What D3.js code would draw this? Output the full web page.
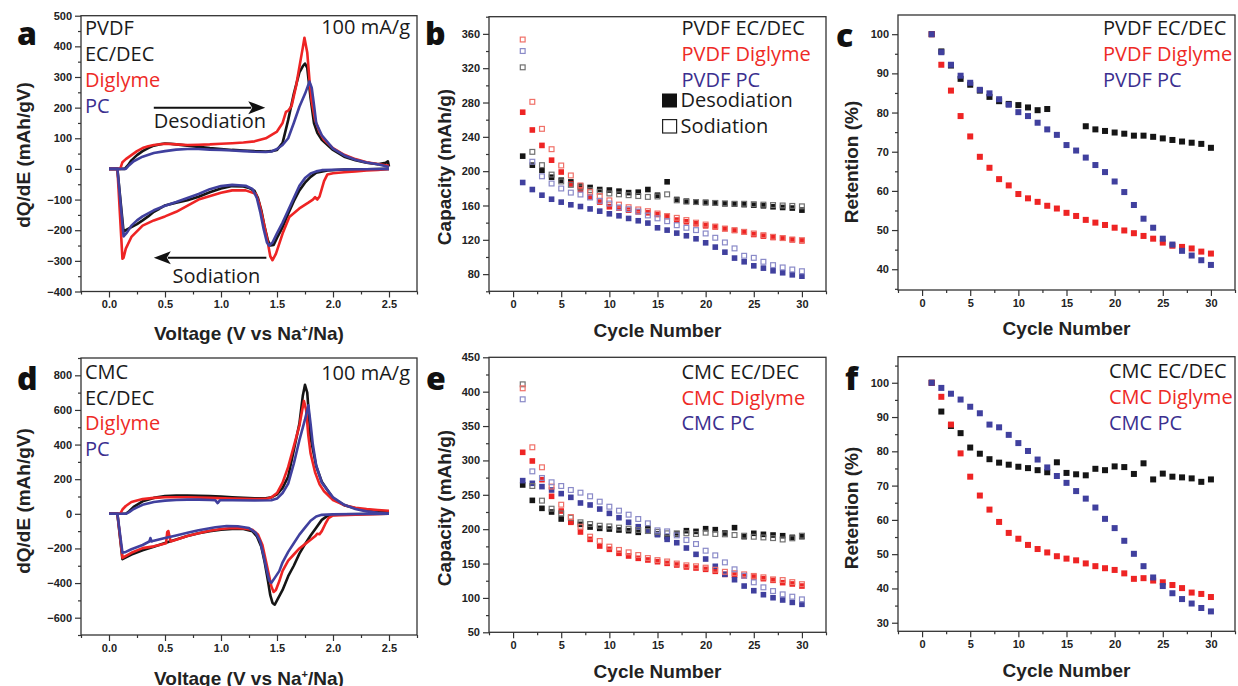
<!DOCTYPE html>
<html>
<head>
<meta charset="utf-8">
<script src="https://cdn.jsdelivr.net/npm/d3@7"></script>
<style>
  body { margin: 0; background: #fff; }
  .tick text { font-family: "Liberation Sans", Arial, sans-serif; font-weight: bold; font-size: 11px; fill: #222; }
  .tick line { stroke: #333; stroke-width: 1.2; }
  .domain { display: none; }
  .ttl { font-family: "Liberation Sans", Arial, sans-serif; font-weight: bold; font-size: 19px; fill: #222; }
  .leg { font-family: "Open Sans", sans-serif; font-size: 20px; }
  .letter { font-family: "Open Sans", sans-serif; font-weight: 800; font-size: 32px; fill: #111; }
</style>
</head>
<body>
<svg id="fig" width="1238" height="686"></svg>
<script>
// ---- data ----
const cycles = [1,2,3,4,5,6,7,8,9,10,11,12,13,14,15,16,17,18,19,20,21,22,23,24,25,26,27,28,29,30];

// dQ/dE curves, [voltage, dQ/dE]; charge = desodiation branch, discharge = sodiation branch
const cvPvdfEcDecCharge = [[0,0],[0.14,0],[0.17,12],[0.2,28],[0.25,45],[0.3,58],[0.35,68],[0.4,76],[0.45,80],[0.5,83],[0.55,82],[0.6,80],[0.7,76],[0.8,72],[0.9,68],[1.0,65],[1.1,62],[1.2,60],[1.3,58],[1.4,57],[1.45,58],[1.5,62],[1.55,85],[1.6,160],[1.65,245],[1.7,315],[1.73,335],[1.75,344],[1.77,330],[1.8,230],[1.83,150],[1.86,118],[1.9,95],[2.0,62],[2.1,40],[2.2,28],[2.3,20],[2.4,15],[2.47,20],[2.49,25],[2.5,8]];
const cvPvdfEcDecDischarge = [[2.5,0],[2.3,-1],[2.1,-2],[1.95,-5],[1.85,-12],[1.8,-26],[1.75,-45],[1.7,-70],[1.65,-105],[1.6,-146],[1.55,-190],[1.5,-225],[1.47,-248],[1.44,-250],[1.42,-235],[1.39,-190],[1.36,-135],[1.33,-95],[1.3,-72],[1.25,-62],[1.2,-57],[1.1,-56],[1.0,-64],[0.9,-76],[0.8,-91],[0.7,-102],[0.6,-110],[0.5,-119],[0.45,-130],[0.4,-140],[0.35,-155],[0.3,-168],[0.25,-180],[0.2,-190],[0.15,-200],[0.13,-205],[0.075,0],[0,0]];
const cvPvdfDigCharge = [[0,0],[0.1,0],[0.12,22],[0.15,32],[0.2,45],[0.25,58],[0.3,68],[0.35,74],[0.4,78],[0.5,82],[0.6,80],[0.7,78],[0.8,79],[0.9,80],[1.0,82],[1.1,84],[1.2,86],[1.3,90],[1.4,100],[1.5,122],[1.55,150],[1.58,186],[1.6,190],[1.63,205],[1.67,270],[1.7,333],[1.73,395],[1.745,428],[1.77,380],[1.79,290],[1.81,220],[1.84,160],[1.88,120],[1.92,95],[2.0,68],[2.1,46],[2.2,32],[2.3,22],[2.4,16],[2.5,10]];
const cvPvdfDigDischarge = [[2.5,0],[2.4,-3],[2.3,-5],[2.2,-8],[2.1,-11],[2.0,-14],[1.95,-18],[1.92,-40],[1.88,-90],[1.86,-100],[1.84,-92],[1.82,-100],[1.78,-110],[1.7,-129],[1.61,-157],[1.55,-211],[1.49,-277],[1.46,-298],[1.44,-285],[1.41,-225],[1.37,-157],[1.34,-110],[1.31,-81],[1.22,-70],[1.1,-70],[1.0,-78],[0.8,-100],[0.6,-140],[0.5,-155],[0.4,-168],[0.3,-185],[0.2,-222],[0.15,-260],[0.13,-290],[0.12,-293],[0.075,0],[0,0]];
const cvPvdfPcCharge = [[0,0],[0.15,0],[0.18,12],[0.22,25],[0.3,40],[0.4,52],[0.5,58],[0.6,63],[0.7,65],[0.8,65],[0.9,63],[1.0,62],[1.1,60],[1.2,58],[1.3,56],[1.4,55],[1.45,57],[1.5,65],[1.55,78],[1.6,100],[1.65,150],[1.7,203],[1.75,245],[1.79,285],[1.81,265],[1.83,210],[1.85,150],[1.9,110],[2.0,66],[2.1,44],[2.2,30],[2.3,21],[2.4,15],[2.5,6]];
const cvPvdfPcDischarge = [[2.5,0],[2.3,-1],[2.1,-2],[1.9,-4],[1.85,-8],[1.8,-15],[1.75,-30],[1.7,-55],[1.65,-95],[1.6,-135],[1.55,-175],[1.5,-210],[1.46,-240],[1.43,-250],[1.41,-240],[1.38,-195],[1.35,-140],[1.32,-95],[1.28,-65],[1.22,-55],[1.1,-52],[1.0,-56],[0.9,-66],[0.8,-82],[0.7,-95],[0.6,-108],[0.5,-120],[0.4,-135],[0.3,-155],[0.25,-168],[0.2,-185],[0.16,-208],[0.13,-220],[0.075,0],[0,0]];

const cvCmcEcDecCharge = [[0,0],[0.15,0],[0.18,15],[0.22,40],[0.3,72],[0.4,92],[0.5,102],[0.6,106],[0.7,106],[0.8,104],[0.9,102],[1.0,99],[1.1,96],[1.2,93],[1.3,90],[1.4,90],[1.45,95],[1.5,112],[1.55,150],[1.6,215],[1.65,367],[1.7,521],[1.73,680],[1.75,745],[1.77,700],[1.8,440],[1.85,275],[1.9,185],[2.0,90],[2.1,50],[2.2,32],[2.3,20],[2.4,14],[2.5,10]];
const cvCmcEcDecDischarge = [[2.5,0],[2.3,-1],[2.1,-3],[2.0,-6],[1.95,-12],[1.9,-35],[1.85,-80],[1.8,-125],[1.75,-175],[1.7,-230],[1.65,-300],[1.6,-360],[1.55,-440],[1.5,-500],[1.48,-525],[1.46,-515],[1.44,-470],[1.42,-390],[1.39,-280],[1.36,-190],[1.32,-130],[1.28,-100],[1.2,-88],[1.1,-87],[1.0,-92],[0.9,-100],[0.8,-112],[0.7,-128],[0.6,-148],[0.5,-168],[0.4,-190],[0.3,-210],[0.2,-235],[0.12,-262],[0.075,0],[0,0]];
const cvCmcDigCharge = [[0,0],[0.1,0],[0.12,25],[0.15,45],[0.2,68],[0.3,85],[0.4,92],[0.5,96],[0.7,96],[0.9,92],[1.1,88],[1.3,85],[1.4,86],[1.45,95],[1.5,120],[1.55,180],[1.6,271],[1.65,390],[1.7,510],[1.74,652],[1.76,600],[1.78,450],[1.8,348],[1.84,240],[1.88,170],[1.92,130],[2.0,80],[2.1,50],[2.2,35],[2.3,27],[2.4,22],[2.5,18]];
const cvCmcDigDischarge = [[2.5,0],[2.2,-5],[2.0,-9],[1.96,-25],[1.93,-60],[1.9,-100],[1.88,-118],[1.86,-115],[1.84,-130],[1.8,-150],[1.75,-175],[1.7,-200],[1.65,-235],[1.6,-270],[1.55,-330],[1.52,-390],[1.49,-440],[1.47,-451],[1.45,-420],[1.43,-360],[1.4,-270],[1.37,-180],[1.33,-120],[1.28,-92],[1.2,-84],[1.1,-82],[1.0,-88],[0.9,-98],[0.8,-112],[0.7,-128],[0.6,-150],[0.55,-160],[0.53,-100],[0.52,-105],[0.51,-170],[0.45,-180],[0.4,-188],[0.3,-198],[0.2,-225],[0.12,-255],[0.075,0],[0,0]];
const cvCmcPcCharge = [[0,0],[0.15,0],[0.18,10],[0.22,28],[0.3,52],[0.4,68],[0.5,76],[0.6,80],[0.7,82],[0.8,82],[0.9,80],[0.95,78],[0.97,62],[0.99,78],[1.1,78],[1.3,77],[1.45,78],[1.5,88],[1.55,120],[1.6,174],[1.65,290],[1.7,425],[1.75,545],[1.78,627],[1.8,520],[1.82,400],[1.85,280],[1.9,180],[2.0,95],[2.1,52],[2.2,28],[2.3,14],[2.4,6],[2.5,2]];
const cvCmcPcDischarge = [[2.5,0],[2.2,-1],[2.0,-3],[1.9,-6],[1.85,-15],[1.8,-40],[1.75,-80],[1.7,-120],[1.65,-170],[1.6,-220],[1.55,-280],[1.52,-331],[1.48,-370],[1.45,-398],[1.43,-385],[1.41,-330],[1.38,-240],[1.35,-160],[1.31,-110],[1.25,-82],[1.15,-72],[1.05,-70],[0.95,-78],[0.8,-95],[0.7,-110],[0.6,-125],[0.5,-140],[0.4,-155],[0.38,-160],[0.37,-140],[0.36,-160],[0.3,-180],[0.2,-205],[0.15,-220],[0.12,-225],[0.075,0],[0,0]];

// capacity (mAh/g) per cycle
const pvdfCapEcDecDes = [217.5,207,201,193,189.5,187.5,183,181,178.6,178,176.7,175,175.5,178.6,172,187.6,167,165,164,163.5,163,162,161.6,161,160.4,159.6,158.5,157.7,157,154.6];
const pvdfCapEcDecSod = [321,222.5,207,196,188,184,181,178,176,174,173,172,171,170,170.5,173,166,164.5,164,163.5,163,162.5,162,162,161.5,161,160.5,160,159.5,159];
const pvdfCapDigDes = [268.7,248,230,212.8,199,185,178.6,170,164,158.5,157,154.6,152.6,151.5,149.5,147.2,143,141,138.7,136.3,135,133,131,129.3,126.2,124.3,122.7,122,120,118.8];
const pvdfCapDigSod = [353.4,280.8,249.3,225.6,206.6,195,183.3,176,171,166,161,158,155.4,153.4,150.7,147.6,145.6,143,140,137.8,135.5,133,131.2,129.3,127.4,125.4,123.5,122,120.4,119.6];
const pvdfCapPcDes = [186.8,178.6,172,167.3,163.9,160.8,158.8,156,153.4,150.3,148,144.9,142.2,139.5,134,131.3,127.8,124.7,121.2,116.5,111.5,105.6,98.7,94.4,89.7,87,83.9,81.6,79.2,77.6];
const pvdfCapPcSod = [340,211,194,185.6,179.8,175,172.8,169.3,165.4,162.3,157.7,155.7,153,148.4,145,141.7,137,134,131.3,127.4,122.4,116.9,110,101.4,99,94.4,90.5,87.8,85.4,83.4];

const cmcCapEcDecDes = [264.3,241.9,230.3,225,214.8,211,207,203.1,201.2,200.2,198.8,197.8,195.4,201.7,193,189,193,197.8,196.8,200.7,199.3,194.4,202.2,189.1,194,192.5,191.5,190.5,188.1,189.1];
const cmcCapEcDecSod = [410.7,262.8,241.5,229.8,223,216.7,210,207.5,205,204,202.2,200.7,198.8,197.3,196,194,194,194,193,194.9,193,192.5,191.5,190.5,189,188,187,185,186.7,190.5];
const cmcCapDigDes = [311.8,299.2,272,247.8,226.4,210,195.9,185.2,175.5,170.7,164.9,161,157.6,155.2,152.7,150.3,147.9,145,143.5,141.6,138.7,134.3,133.3,132,130.4,128,125.6,122.2,120.3,117.3];
const cmcCapDigSod = [404.9,319.1,290,262,235.6,217.7,203.6,189.1,182.8,174.6,169.8,166.3,162.4,158,155,153,150,147.4,146,144,141,138,136,134.3,132,130,127,126,123,120];
const cmcCapPcDes = [270.6,266.7,261.9,257,251.7,246.3,238.1,235.2,229.3,223,216.7,210,203.6,197.3,192,185.2,180.3,172.6,163.4,156.6,146,134.3,126.5,117.3,110.5,104.7,100.3,97,93.5,90.7];
const cmcCapPcSod = [388.9,284.1,274.5,268.2,262.8,257,253.1,247.8,240,232.7,226.9,221.1,214.8,208.5,198.3,196.8,191,184.2,178.4,168.7,161.9,151.7,141.6,132.3,122.7,115.4,110,105.2,101.8,97.9];

// retention (%) per cycle
const pvdfRetEcDec = [100,95.6,92.0,88.6,87.1,85.6,84,82.9,82.2,81.9,81.3,80.6,80.9,null,null,null,76.5,75.7,75.3,74.9,74.6,74.1,74.1,73.8,73.4,73,72.6,72.3,72,71];
const pvdfRetDig = [100,92.2,85.6,79.1,73.9,68.7,65.9,63,61.4,59.2,58.1,57.2,56.2,55.5,54.4,53.6,52.6,51.9,51.3,50.6,49.9,49.2,48.5,47.8,46.8,46,45.7,45.3,44.5,44];
const pvdfRetPc = [100,95.4,92.2,89.4,87.6,85.8,84.9,83.4,82,80.1,79.1,77.4,75.7,74.3,71.7,70.3,68.5,66.6,64.8,62.4,59.7,56.4,52.9,50.6,47.8,46.3,44.7,43.5,42.3,41.1];
const cmcRetEcDec = [100,91.6,87.4,85.3,81.1,79.3,77.7,76.7,76.1,75.5,75.1,74.5,73.9,76.8,73.7,73.3,73,74.9,74.5,75.6,75.4,73.4,76.5,71.8,73.5,72.6,72.4,72.1,71.1,71.8];
const cmcRetDig = [100,95.9,87.8,79.4,72.6,67.1,63,59.4,56.2,54.5,52.7,51.5,50.5,49.4,48.7,48.2,47.3,46.5,45.9,45.4,44.4,42.8,43,42.3,41.8,41,40.1,38.8,38.4,37.5];
const cmcRetPc = [100,98.5,96.8,95.1,93,91.1,87.8,87,84.8,82.4,80.1,77.6,75.3,72.8,70.8,68.4,66.2,63.6,60.3,57.6,53.9,50.1,46.5,43.2,40.7,38.6,36.9,35.6,34.3,33.3];

// tick labels
const voltTicks = [0, 0.5, 1, 1.5, 2, 2.5];
const pvdfCvTicks = [-400,-300,-200,-100,0,100,200,300,400,500];
const cmcCvTicks = [-600,-400,-200,0,200,400,600,800];
const cycleTicks = [0,5,10,15,20,25,30];
const pvdfCapTicks = [80,120,160,200,240,280,320,360];
const cmcCapTicks = [50,100,150,200,250,300,350,400,450];
const pvdfRetTicks = [40,50,60,70,80,90,100];
const cmcRetTicks = [30,40,50,60,70,80,90,100];

// ---- styles ----
const BLACK = "#151515", RED = "#ee2424", BLUE = "#40409e";
const BLACK_O = "#707070", RED_O = "#f07068", BLUE_O = "#8a8ac8";
const TXT_RED = "#ee2a26", TXT_BLUE = "#3b2f8f";

const svg = d3.select("#fig");

function minors(ticks, dom) {
  const step = ticks[1] - ticks[0];
  const m = ticks.map(t => t + step / 2).concat([ticks[0] - step / 2]);
  return m.filter(v => v >= Math.min(...dom) - 1e-9 && v <= Math.max(...dom) + 1e-9);
}

function panel(p) {
  const x = d3.scaleLinear().domain(p.xDom).range([p.left, p.right]);
  const y = d3.scaleLinear().domain(p.yDom).range([p.bottom, p.top]);

  svg.append("g").attr("transform", `translate(0,${p.bottom})`)
    .call(d3.axisBottom(x).tickValues(p.xTicks).tickSize(6).tickPadding(3).tickFormat(p.xFmt || d3.format("d")));
  svg.append("g").attr("transform", `translate(0,${p.bottom})`)
    .call(d3.axisBottom(x).tickValues(minors(p.xTicks, p.xDom)).tickSize(3).tickFormat(""));
  svg.append("g").attr("transform", `translate(${p.left},0)`)
    .call(d3.axisLeft(y).tickValues(p.yTicks).tickSize(6).tickPadding(3).tickFormat(d3.format("d")));
  svg.append("g").attr("transform", `translate(${p.left},0)`)
    .call(d3.axisLeft(y).tickValues(minors(p.yTicks, p.yDom)).tickSize(3).tickFormat(""));

  svg.append("rect")
    .attr("x", p.left).attr("y", p.top)
    .attr("width", p.right - p.left).attr("height", p.bottom - p.top)
    .attr("fill", "none").attr("stroke", "#333").attr("stroke-width", 1.3);

  // axis titles
  const xt = svg.append("text").attr("class", "ttl")
    .attr("x", (p.left + p.right) / 2).attr("y", p.xTitleY)
    .attr("text-anchor", "middle");
  if (p.xTitle === "volt") {
    xt.append("tspan").text("Voltage (V vs Na");
    xt.append("tspan").attr("dy", -7).attr("font-size", 11).text("+");
    xt.append("tspan").attr("dy", 7).text("/Na)");
  } else {
    xt.text(p.xTitle);
  }
  svg.append("text").attr("class", "ttl")
    .attr("transform", `translate(${p.yTitleX},${p.yTitleY}) rotate(-90)`)
    .attr("text-anchor", "middle").text(p.yTitle);

  svg.append("text").attr("class", "letter")
    .attr("x", p.letterX).attr("y", p.letterY).text(p.letter);

  return { x, y };
}

function legend(x, y0, items, gap) {
  items.forEach((it, i) => {
    svg.append("text").attr("class", "leg")
      .attr("x", x).attr("y", y0 + i * gap)
      .attr("fill", it.color).text(it.label);
  });
}

function cvCurves(s, curves) {
  const line = d3.line().x(d => s.x(d[0])).y(d => s.y(d[1]));
  curves.forEach(c => {
    svg.append("path").datum(c.data)
      .attr("d", line)
      .attr("fill", "none").attr("stroke", c.color)
      .attr("stroke-width", 2.6).attr("stroke-linejoin", "round");
  });
}

function squares(s, series, size) {
  series.forEach(sr => {
    const pts = cycles.map((c, i) => [c, sr.values[i]]).filter(d => d[1] != null);
    const g = svg.append("g");
    const sz = sr.open ? size - 0.8 : size;
    g.selectAll("rect").data(pts).join("rect")
      .attr("x", d => s.x(d[0]) - sz / 2)
      .attr("y", d => s.y(d[1]) - sz / 2)
      .attr("width", sz).attr("height", sz)
      .attr("fill", sr.open ? "none" : sr.color)
      .attr("stroke", sr.open ? sr.color : "none")
      .attr("stroke-width", sr.open ? 1.2 : 0);
  });
}

function arrow(x1, y1, x2, y2) {
  const dir = Math.sign(x2 - x1);
  svg.append("line").attr("x1", x1).attr("y1", y1).attr("x2", x2 - dir * 14).attr("y2", y2)
    .attr("stroke", "#111").attr("stroke-width", 2);
  svg.append("path")
    .attr("d", `M${x2},${y2} L${x2 - dir * 17},${y2 - 6.5} L${x2 - dir * 13},${y2} L${x2 - dir * 17},${y2 + 6.5} Z`)
    .attr("fill", "#111");
}

// ---- panel a ----
const sa = panel({ left: 81, right: 417, top: 15.7, bottom: 291.5, xDom: [-0.25, 2.75], yDom: [-400, 500],
  xTicks: voltTicks, yTicks: pvdfCvTicks, xFmt: d3.format(".1f"),
  xTitle: "volt", xTitleY: 340, yTitle: "dQ/dE (mAh/gV)", yTitleX: 30, yTitleY: 155,
  letter: "a", letterX: 17, letterY: 45 });
cvCurves(sa, [
  { data: cvPvdfEcDecCharge, color: BLACK }, { data: cvPvdfEcDecDischarge, color: BLACK },
  { data: cvPvdfDigCharge, color: RED }, { data: cvPvdfDigDischarge, color: RED },
  { data: cvPvdfPcCharge, color: BLUE }, { data: cvPvdfPcDischarge, color: BLUE }
]);
legend(85, 35, [{ label: "PVDF", color: "#1a1a1a" }, { label: "EC/DEC", color: "#1a1a1a" },
  { label: "Diglyme", color: TXT_RED }, { label: "PC", color: TXT_BLUE }], 26);
svg.append("text").attr("class", "leg").attr("x", 410).attr("y", 34)
  .attr("text-anchor", "end").attr("fill", "#1a1a1a").text("100 mA/g");
arrow(sa.x(0.4), sa.y(200), sa.x(1.395), sa.y(200));
svg.append("text").attr("class", "leg").attr("x", sa.x(0.4)).attr("y", 128)
  .attr("font-size", 19.5).attr("fill", "#1a1a1a").text("Desodiation");
arrow(sa.x(1.405), sa.y(-290), sa.x(0.4), sa.y(-290));
svg.append("text").attr("class", "leg").attr("x", 172.5).attr("y", 282.5)
  .attr("font-size", 19.5).attr("fill", "#1a1a1a").text("Sodiation");

// ---- panel b ----
const sb = panel({ left: 489, right: 826, top: 16.7, bottom: 291.3, xDom: [-2.5, 32.5], yDom: [60, 380],
  xTicks: cycleTicks, yTicks: pvdfCapTicks,
  xTitle: "Cycle Number", xTitleY: 337, yTitle: "Capacity (mAh/g)", yTitleX: 451, yTitleY: 167,
  letter: "b", letterX: 425, letterY: 45 });
squares(sb, [
  { values: pvdfCapEcDecDes, color: BLACK }, { values: pvdfCapDigDes, color: RED }, { values: pvdfCapPcDes, color: BLUE },
  { values: pvdfCapEcDecSod, color: BLACK_O, open: true }, { values: pvdfCapDigSod, color: RED_O, open: true },
  { values: pvdfCapPcSod, color: BLUE_O, open: true }
], 5.6);
legend(681.5, 35, [{ label: "PVDF EC/DEC", color: "#1a1a1a" }, { label: "PVDF Diglyme", color: TXT_RED },
  { label: "PVDF PC", color: TXT_BLUE }], 26);
svg.append("rect").attr("x", 662).attr("y", 93.5).attr("width", 15).attr("height", 14).attr("fill", "#111");
svg.append("rect").attr("x", 662.6).attr("y", 119.6).attr("width", 14).attr("height", 13.4)
  .attr("fill", "none").attr("stroke", "#222").attr("stroke-width", 1.2);
svg.append("text").attr("class", "leg").attr("x", 680.5).attr("y", 107).attr("fill", "#1a1a1a").text("Desodiation");
svg.append("text").attr("class", "leg").attr("x", 680.5).attr("y", 133).attr("fill", "#1a1a1a").text("Sodiation");

// ---- panel c ----
const sc = panel({ left: 898, right: 1235, top: 15, bottom: 290, xDom: [-2.5, 32.5], yDom: [34.7, 104.9],
  xTicks: cycleTicks, yTicks: pvdfRetTicks,
  xTitle: "Cycle Number", xTitleY: 335, yTitle: "Retention (%)", yTitleX: 858, yTitleY: 162,
  letter: "c", letterX: 836, letterY: 47 });
squares(sc, [
  { values: pvdfRetEcDec, color: BLACK }, { values: pvdfRetDig, color: RED }, { values: pvdfRetPc, color: BLUE }
], 6);
legend(1103, 35, [{ label: "PVDF EC/DEC", color: "#1a1a1a" }, { label: "PVDF Diglyme", color: TXT_RED },
  { label: "PVDF PC", color: TXT_BLUE }], 26);

// ---- panel d ----
const sd = panel({ left: 81, right: 417, top: 358, bottom: 635, xDom: [-0.25, 2.75], yDom: [-700, 900],
  xTicks: voltTicks, yTicks: cmcCvTicks, xFmt: d3.format(".1f"),
  xTitle: "volt", xTitleY: 685, yTitle: "dQ/dE (mAh/gV)", yTitleX: 30, yTitleY: 501,
  letter: "d", letterX: 17, letterY: 390 });
cvCurves(sd, [
  { data: cvCmcEcDecCharge, color: BLACK }, { data: cvCmcEcDecDischarge, color: BLACK },
  { data: cvCmcDigCharge, color: RED }, { data: cvCmcDigDischarge, color: RED },
  { data: cvCmcPcCharge, color: BLUE }, { data: cvCmcPcDischarge, color: BLUE }
]);
legend(85, 379, [{ label: "CMC", color: "#1a1a1a" }, { label: "EC/DEC", color: "#1a1a1a" },
  { label: "Diglyme", color: TXT_RED }, { label: "PC", color: TXT_BLUE }], 25.7);
svg.append("text").attr("class", "leg").attr("x", 410).attr("y", 380)
  .attr("text-anchor", "end").attr("fill", "#1a1a1a").text("100 mA/g");

// ---- panel e ----
const se = panel({ left: 489, right: 826, top: 357.3, bottom: 632.3, xDom: [-2.5, 32.5], yDom: [50, 450],
  xTicks: cycleTicks, yTicks: cmcCapTicks,
  xTitle: "Cycle Number", xTitleY: 678, yTitle: "Capacity (mAh/g)", yTitleX: 451, yTitleY: 508,
  letter: "e", letterX: 426, letterY: 390 });
squares(se, [
  { values: cmcCapEcDecDes, color: BLACK }, { values: cmcCapDigDes, color: RED }, { values: cmcCapPcDes, color: BLUE },
  { values: cmcCapEcDecSod, color: BLACK_O, open: true }, { values: cmcCapDigSod, color: RED_O, open: true },
  { values: cmcCapPcSod, color: BLUE_O, open: true }
], 5.6);
legend(681.5, 379, [{ label: "CMC EC/DEC", color: "#1a1a1a" }, { label: "CMC Diglyme", color: TXT_RED },
  { label: "CMC PC", color: TXT_BLUE }], 25.5);

// ---- panel f ----
const sf = panel({ left: 898, right: 1235, top: 356.7, bottom: 631.3, xDom: [-2.5, 32.5], yDom: [27.5, 107.6],
  xTicks: cycleTicks, yTicks: cmcRetTicks,
  xTitle: "Cycle Number", xTitleY: 677, yTitle: "Retention (%)", yTitleX: 858, yTitleY: 508,
  letter: "f", letterX: 845, letterY: 390 });
squares(sf, [
  { values: cmcRetEcDec, color: BLACK }, { values: cmcRetDig, color: RED }, { values: cmcRetPc, color: BLUE }
], 6);
legend(1109, 378, [{ label: "CMC EC/DEC", color: "#1a1a1a" }, { label: "CMC Diglyme", color: TXT_RED },
  { label: "CMC PC", color: TXT_BLUE }], 26);
</script>
</body>
</html>
